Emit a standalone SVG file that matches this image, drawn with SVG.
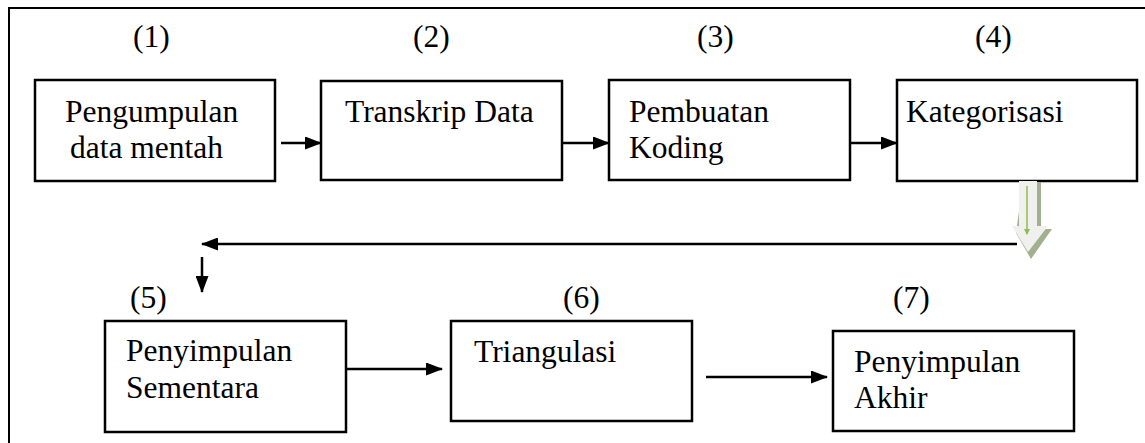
<svg xmlns="http://www.w3.org/2000/svg" width="1145" height="443" viewBox="0 0 1145 443">
<defs>
<style>
.box{fill:#fff;stroke:#000;stroke-width:2.5}
.t{font-family:"Liberation Serif","Times New Roman",serif;font-size:31.5px;fill:#000}
.c{stroke:#000;stroke-width:2.5;fill:none}
</style>
<marker id="ahg" markerWidth="6" markerHeight="6" refX="5" refY="3" orient="auto" markerUnits="userSpaceOnUse" viewBox="0 0 6 6">
<path d="M0,0 L6,3 L0,6 Z" fill="#8fbc4f"/>
</marker>
<marker id="ahb" markerWidth="17" markerHeight="13" refX="16" refY="6.5" orient="auto" markerUnits="userSpaceOnUse" viewBox="0 0 17 13">
<path d="M0,0 L17,6.5 L0,13 Z" fill="#000"/>
</marker>
</defs>
<rect x="0" y="0" width="1145" height="443" fill="#fff"/>
<rect x="9" y="8" width="1200" height="500" fill="none" stroke="#000" stroke-width="2"/>

<g id="labels">
<text class="t" x="133" y="47">(1)</text>
<text class="t" x="413" y="47">(2)</text>
<text class="t" x="697" y="47">(3)</text>
<text class="t" x="975" y="47">(4)</text>
<text class="t" x="130" y="308">(5)</text>
<text class="t" x="563" y="308">(6)</text>
<text class="t" x="893" y="308">(7)</text>
</g>

<g id="n1"><rect class="box" x="35" y="80" width="240" height="101"/>
<text class="t" x="65" y="122">Pengumpulan</text><text class="t" x="70" y="158">data mentah</text></g>
<g id="n2"><rect class="box" x="321" y="81" width="241" height="99"/>
<text class="t" x="345" y="122">Transkrip Data</text></g>
<g id="n3"><rect class="box" x="609" y="80" width="241" height="100"/>
<text class="t" x="629" y="122">Pembuatan</text><text class="t" x="629" y="158">Koding</text></g>
<g id="n4"><rect class="box" x="897" y="80" width="240" height="101"/>
<text class="t" x="906" y="122">Kategorisasi</text></g>
<g id="n5"><rect class="box" x="105" y="321" width="241" height="111"/>
<text class="t" x="126" y="361">Penyimpulan</text><text class="t" x="126" y="398">Sementara</text></g>
<g id="n6"><rect class="box" x="451" y="321" width="241" height="100"/>
<text class="t" x="474" y="362">Triangulasi</text></g>
<g id="n7"><rect class="box" x="833" y="331" width="241" height="100"/>
<text class="t" x="854" y="372">Penyimpulan</text><text class="t" x="854" y="408">Akhir</text></g>

<g id="connectors">
<line class="c" x1="281" y1="143" x2="321" y2="143" marker-end="url(#ahb)"/>
<line class="c" x1="562" y1="143" x2="609" y2="143" marker-end="url(#ahb)"/>
<line class="c" x1="850" y1="143" x2="897" y2="143" marker-end="url(#ahb)"/>
<line class="c" x1="1017" y1="244" x2="202" y2="244" marker-end="url(#ahb)"/>
<line class="c" x1="202" y1="257" x2="202" y2="292" marker-end="url(#ahb)"/>
<line class="c" x1="346" y1="369" x2="442" y2="369" marker-end="url(#ahb)"/>
<line class="c" x1="706" y1="377" x2="827" y2="377" marker-end="url(#ahb)"/>
<g id="green-arrow">
<path d="M1023,182 L1041,182 L1041,229 L1052,229 L1031,259 L1016,233 Z" fill="#a3b08f"/>
<path d="M1019,181 L1037,181 L1037,226 L1048,226 L1028,252 L1012,226 L1019,226 Z" fill="#f0f0ee"/>
<line x1="1027" y1="186" x2="1027" y2="234" stroke="#8fbc4f" stroke-width="1.5" marker-end="url(#ahg)"/>
</g>
</g>
</svg>
